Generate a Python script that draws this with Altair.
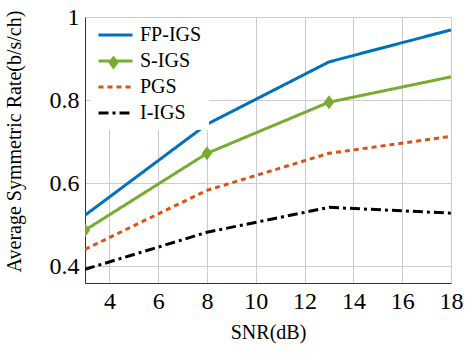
import altair as alt
import pandas as pd

series_names = ["FP-IGS", "S-IGS", "PGS", "I-IGS"]
colors = ["#0072BD", "#77AC30", "#D95319", "#000000"]

fp_x = [3, 8, 13, 18]
fp_y = [0.523, 0.742, 0.892, 0.969]

sigs_x = [3, 8, 13, 18]
sigs_y = [0.487, 0.672, 0.795, 0.856]
sigs_marker_x = [3, 8, 13]
sigs_marker_y = [0.487, 0.672, 0.795]

pgs_x = [3, 8, 13, 18]
pgs_y = [0.441, 0.583, 0.672, 0.713]

iigs_x = [3, 8, 13, 18]
iigs_y = [0.393, 0.482, 0.542, 0.528]

x_ticks = [4, 6, 8, 10, 12, 14, 16, 18]
y_ticks = [0.4, 0.6, 0.8, 1.0]

rows = []
for name, xs, ys in [("FP-IGS", fp_x, fp_y), ("S-IGS", sigs_x, sigs_y),
                     ("PGS", pgs_x, pgs_y), ("I-IGS", iigs_x, iigs_y)]:
    for x, y in zip(xs, ys):
        rows.append({"snr": x, "rate": y, "series": name})
df = pd.DataFrame(rows)
markers = pd.DataFrame({"snr": sigs_marker_x, "rate": sigs_marker_y, "marker": "S-IGS"})

FONT = "Liberation Serif"
DIAMOND = "M0,-1.15L0.85,0L0,1.15L-0.85,0Z"

xscale = alt.Scale(domain=[3, 18], nice=False, zero=False)
yscale = alt.Scale(domain=[0.36, 1.0], nice=False, zero=False)

legend = alt.Legend(
    title=None,
    orient="none",
    legendX=5,
    legendY=1,
    fillColor="white",
    padding=7,
    symbolType="M-1,0L3,0",
    symbolSize=289,
    symbolStrokeWidth=3,
    labelFont=FONT,
    labelFontSize=20,
    labelColor="black",
    labelOffset=23,
    rowPadding=6,
    labelLimit=200,
)

# label-less legend that only places the diamond onto the S-IGS legend entry
marker_legend = alt.Legend(
    title=None,
    orient="none",
    legendX=22,
    legendY=39,
    padding=0,
    symbolFillColor="#77AC30",
    symbolStrokeColor="#77AC30",
    symbolStrokeWidth=0,
    symbolSize=150,
    labelFontSize=1,
    labelOpacity=0,
    labelOffset=0,
)

color = alt.Color(
    "series:N",
    scale=alt.Scale(domain=series_names, range=colors),
    legend=legend,
    sort=series_names,
)
dash = alt.StrokeDash(
    "series:N",
    scale=alt.Scale(domain=series_names, range=[[1, 0], [1, 0], [5, 4], [10, 4, 3, 4]]),
    legend=legend,
    sort=series_names,
)

x_enc = alt.X(
    "snr:Q",
    scale=xscale,
    axis=alt.Axis(
        values=x_ticks,
        title="SNR(dB)",
        labelFont=FONT,
        labelFontSize=24,
        labelColor="black",
        titleFont=FONT,
        titleFontSize=20,
        titleFontWeight="normal",
        titleColor="black",
        ticks=False,
        labelPadding=6,
        titlePadding=9,
        grid=True,
        gridColor="#cccccc",
        domainColor="#333333",
        labelFlush=False,
    ),
)
y_enc = alt.Y(
    "rate:Q",
    scale=yscale,
    axis=alt.Axis(
        values=y_ticks,
        format="~g",
        title="Average Symmetric Rate(b/s/ch)",
        labelFont=FONT,
        labelFontSize=24,
        labelColor="black",
        titleFont=FONT,
        titleFontSize=20,
        titleFontWeight="normal",
        titleColor="black",
        ticks=False,
        labelPadding=6,
        titlePadding=25,
        titleY=124,
        grid=True,
        gridColor="#cccccc",
        domainColor="#333333",
        labelFlush=False,
    ),
)

lines = alt.Chart(df).mark_line(strokeWidth=3, clip=True).encode(
    x=x_enc,
    y=y_enc,
    color=color,
    strokeDash=dash,
)

points = alt.Chart(markers).mark_point(
    filled=True, size=150, opacity=1, clip=True, color="#77AC30"
).encode(
    x=alt.X("snr:Q", scale=xscale),
    y=alt.Y("rate:Q", scale=yscale),
    shape=alt.Shape(
        "marker:N",
        scale=alt.Scale(domain=["S-IGS"], range=[DIAMOND]),
        legend=marker_legend,
    ),
)

chart = (
    alt.layer(lines, points)
    .properties(
        width=366,
        height=266,
        autosize=alt.AutoSizeParams(type="none"),
        padding={"left": 85, "top": 17, "right": 22, "bottom": 70},
        background="white",
    )
    .configure_view(stroke="#cccccc", strokeWidth=1)
)

chart.save("out.html", embed_options={"renderer": "svg", "actions": False})
